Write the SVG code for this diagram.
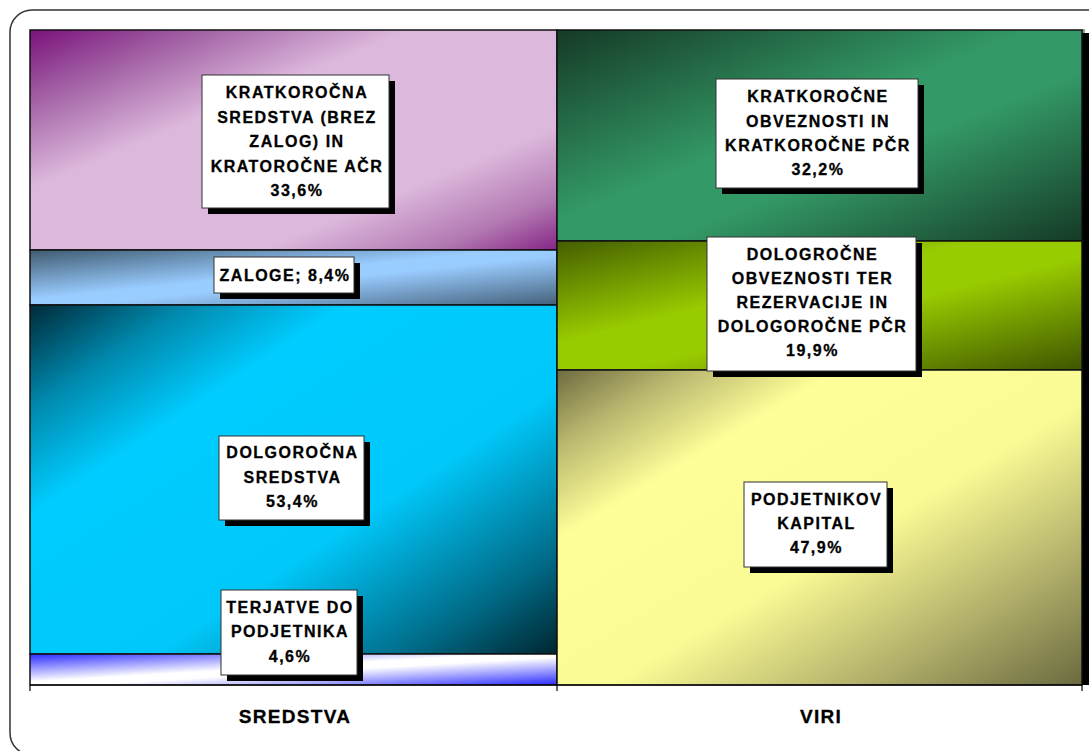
<svg xmlns="http://www.w3.org/2000/svg" width="1089" height="751" viewBox="0 0 1089 751">
<style>
.bar{stroke:#111;stroke-width:1.5}
.box{fill:#fff;stroke:#333;stroke-width:1}
.sh{fill:#000}
.lbl{font-family:"Liberation Sans",Arial,sans-serif;font-weight:bold;font-size:16px;letter-spacing:1.5px;text-anchor:middle;fill:#000;stroke:#000;stroke-width:0.3}
.ax{font-family:"Liberation Sans",Arial,sans-serif;font-weight:bold;font-size:19px;letter-spacing:1.3px;text-anchor:middle;fill:#000;stroke:#000;stroke-width:0.3}
</style>
<defs>
<linearGradient id="gPurple" x1="0" y1="0" x2="1" y2="1"><stop offset="0" stop-color="#7a127c"/><stop offset="0.17" stop-color="#a464a6"/><stop offset="0.36" stop-color="#dcb8dc"/><stop offset="0.72" stop-color="#dcb8dc"/><stop offset="0.88" stop-color="#b37ab2"/><stop offset="1" stop-color="#862586"/></linearGradient>
<linearGradient id="gLblue" x1="0" y1="0" x2="1" y2="1"><stop offset="0" stop-color="#3f5a70"/><stop offset="0.45" stop-color="#99ccff"/><stop offset="0.55" stop-color="#99ccff"/><stop offset="1" stop-color="#44607a"/></linearGradient>
<linearGradient id="gCyan" x1="0" y1="0" x2="1" y2="1"><stop offset="0" stop-color="#002a38"/><stop offset="0.15" stop-color="#0089ad"/><stop offset="0.3" stop-color="#00ccff"/><stop offset="0.62" stop-color="#00c8fa"/><stop offset="0.85" stop-color="#006d8a"/><stop offset="1" stop-color="#00262f"/></linearGradient>
<linearGradient id="gBlue" x1="0" y1="0" x2="1" y2="1"><stop offset="0" stop-color="#2a2aff"/><stop offset="0.45" stop-color="#ffffff"/><stop offset="0.55" stop-color="#ffffff"/><stop offset="1" stop-color="#2a2aff"/></linearGradient>
<linearGradient id="gGreen" x1="0" y1="0" x2="1" y2="1"><stop offset="0" stop-color="#153a26"/><stop offset="0.45" stop-color="#339966"/><stop offset="0.6" stop-color="#339966"/><stop offset="1" stop-color="#153a26"/></linearGradient>
<linearGradient id="gLime" x1="0" y1="0" x2="1" y2="1"><stop offset="0" stop-color="#445e00"/><stop offset="0.4" stop-color="#99cc00"/><stop offset="0.56" stop-color="#99cc00"/><stop offset="1" stop-color="#3e5500"/></linearGradient>
<linearGradient id="gYellow" x1="0" y1="0" x2="1" y2="1"><stop offset="0" stop-color="#6e6b40"/><stop offset="0.12" stop-color="#b8b66e"/><stop offset="0.27" stop-color="#ffff99"/><stop offset="0.55" stop-color="#fbfb95"/><stop offset="0.8" stop-color="#aeac68"/><stop offset="1" stop-color="#6a6a40"/></linearGradient>
</defs>
<rect width="1089" height="751" fill="#fff"/>
<rect x="10" y="10" width="1100" height="745" rx="22" ry="22" fill="#fff" stroke="#333" stroke-width="1.5"/>

<g id="plot">
<rect x="1082" y="33" width="8" height="652" fill="#000"/>
<rect x="1082" y="29" width="3" height="4" fill="#999"/>
<g id="bar-kratkorocna-sredstva"><rect class="bar" x="30" y="30" width="527" height="220" fill="url(#gPurple)"/></g>
<g id="bar-zaloge"><rect class="bar" x="30" y="250" width="527" height="55" fill="url(#gLblue)"/></g>
<g id="bar-dolgorocna-sredstva"><rect class="bar" x="30" y="305" width="527" height="349" fill="url(#gCyan)"/></g>
<g id="bar-terjatve"><rect class="bar" x="30" y="654" width="527" height="31" fill="url(#gBlue)"/></g>
<g id="bar-kratkorocne-obveznosti"><rect class="bar" x="557" y="30" width="525" height="211" fill="url(#gGreen)"/></g>
<g id="bar-dolgorocne-obveznosti"><rect class="bar" x="557" y="241" width="525" height="129" fill="url(#gLime)"/></g>
<g id="bar-kapital"><rect class="bar" x="557" y="370" width="525" height="315" fill="url(#gYellow)"/></g>
</g>

<g id="axis" stroke="#000" stroke-width="1.2">
<line x1="30" y1="685" x2="1082" y2="685"/>
<line x1="30" y1="685" x2="30" y2="691"/>
<line x1="557" y1="685" x2="557" y2="691"/>
<line x1="1082" y1="685" x2="1082" y2="691"/>
</g>

<g id="label-kratkorocna-sredstva">
<rect class="sh" x="208" y="81" width="187" height="133"/>
<rect class="box" x="202" y="75" width="187" height="133"/>
<text class="lbl" x="297" y="98">KRATKOROČNA</text>
<text class="lbl" x="297" y="122.5">SREDSTVA (BREZ</text>
<text class="lbl" x="297" y="147">ZALOG) IN</text>
<text class="lbl" x="297" y="171.5">KRATOROČNE AČR</text>
<text class="lbl" x="297" y="196">33,6%</text>
</g>

<g id="label-zaloge">
<rect class="sh" x="220" y="263" width="140" height="36"/>
<rect class="box" x="214" y="257" width="140" height="36"/>
<text class="lbl" x="285" y="281">ZALOGE; 8,4%</text>
</g>

<g id="label-dolgorocna-sredstva">
<rect class="sh" x="225" y="442" width="145" height="84"/>
<rect class="box" x="219" y="436" width="145" height="84"/>
<text class="lbl" x="292.5" y="458">DOLGOROČNA</text>
<text class="lbl" x="292.5" y="483">SREDSTVA</text>
<text class="lbl" x="292.5" y="507">53,4%</text>
</g>

<g id="label-terjatve">
<rect class="sh" x="227" y="596" width="136" height="85"/>
<rect class="box" x="221" y="590" width="136" height="85"/>
<text class="lbl" x="290" y="613">TERJATVE DO</text>
<text class="lbl" x="290" y="637">PODJETNIKA</text>
<text class="lbl" x="290" y="662">4,6%</text>
</g>

<g id="label-kratkorocne-obveznosti">
<rect class="sh" x="722" y="85" width="202" height="109"/>
<rect class="box" x="716" y="79" width="202" height="109"/>
<text class="lbl" x="818" y="102">KRATKOROČNE</text>
<text class="lbl" x="818" y="127">OBVEZNOSTI IN</text>
<text class="lbl" x="818" y="151">KRATKOROČNE PČR</text>
<text class="lbl" x="818" y="175">32,2%</text>
</g>

<g id="label-dolgorocne-obveznosti">
<rect class="sh" x="713" y="243" width="209" height="134"/>
<rect class="box" x="707" y="237" width="209" height="134"/>
<text class="lbl" x="812.5" y="260">DOLOGROČNE</text>
<text class="lbl" x="812.5" y="284">OBVEZNOSTI TER</text>
<text class="lbl" x="812.5" y="308">REZERVACIJE IN</text>
<text class="lbl" x="812.5" y="332">DOLOGOROČNE PČR</text>
<text class="lbl" x="812.5" y="356">19,9%</text>
</g>

<g id="label-kapital">
<rect class="sh" x="750" y="488" width="143" height="85"/>
<rect class="box" x="744" y="482" width="143" height="85"/>
<text class="lbl" x="816.5" y="505">PODJETNIKOV</text>
<text class="lbl" x="816.5" y="529">KAPITAL</text>
<text class="lbl" x="816.5" y="553">47,9%</text>
</g>

<g id="axis-labels">
<text class="ax" x="295" y="723">SREDSTVA</text>
<text class="ax" x="821" y="723">VIRI</text>
</g>
</svg>
